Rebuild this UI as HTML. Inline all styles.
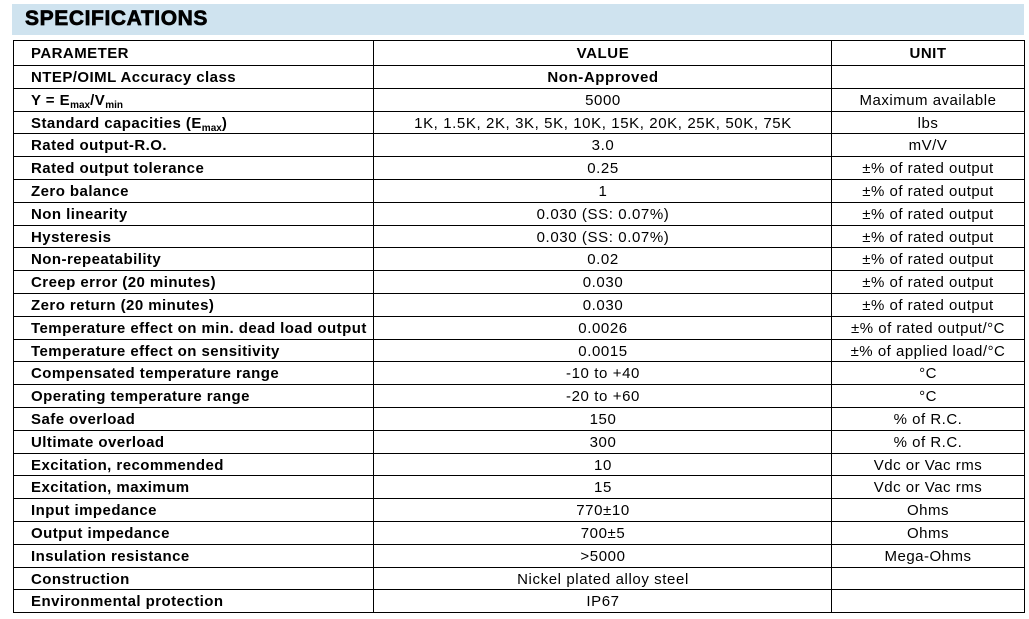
<!DOCTYPE html>
<html><head><meta charset="utf-8"><style>
body{margin:0;width:1029px;height:619px;background:#fff;position:relative;overflow:hidden;font-family:"Liberation Sans",Arial,sans-serif;color:#000}
.bar{position:absolute;left:12px;top:4px;width:1012px;height:31px;background:#cfe3ef}
.bar span{position:absolute;left:13px;top:3px;font-size:21px;font-weight:900;letter-spacing:0.6px;-webkit-text-stroke:0.7px #000}
.tbl{position:absolute;left:13px;top:40px;width:1010px;height:571px;border:1px solid #000}
.r{position:absolute;left:0;width:1010px;border-top:1px solid #000;font-size:15px;line-height:23px;letter-spacing:0.45px}
.r div{position:absolute;top:0}
.p{left:17px;font-weight:bold}
.v{left:360px;width:458px;text-align:center;letter-spacing:0.6px}
.u{left:818px;width:192px;text-align:center;letter-spacing:0.5px}
.vl{position:absolute;top:0;height:571px;border-left:1px solid #000}
sub{font-size:10px;vertical-align:-3px;line-height:0;letter-spacing:0}
</style></head><body>
<div class="bar"><span>SPECIFICATIONS</span></div>
<div class="tbl">
<div class="vl" style="left:359px"></div><div class="vl" style="left:817px"></div>
<div class="r" style="top:1px;border-top:none"><div class="p">PARAMETER</div><div class="v" style="font-weight:bold">VALUE</div><div class="u" style="font-weight:bold">UNIT</div></div>
<div class="r" style="top:24px"><div class="p">NTEP/OIML Accuracy class</div><div class="v" style="font-weight:bold">Non-Approved</div><div class="u"></div></div>
<div class="r" style="top:46.8px"><div class="p">Y = E<sub>max</sub>/V<sub>min</sub></div><div class="v">5000</div><div class="u">Maximum available</div></div>
<div class="r" style="top:69.6px"><div class="p">Standard capacities (E<sub>max</sub>)</div><div class="v">1K, 1.5K, 2K, 3K, 5K, 10K, 15K, 20K, 25K, 50K, 75K</div><div class="u">lbs</div></div>
<div class="r" style="top:92.4px"><div class="p">Rated output-R.O.</div><div class="v">3.0</div><div class="u">mV/V</div></div>
<div class="r" style="top:115.2px"><div class="p">Rated output tolerance</div><div class="v">0.25</div><div class="u">±% of rated output</div></div>
<div class="r" style="top:138px"><div class="p">Zero balance</div><div class="v">1</div><div class="u">±% of rated output</div></div>
<div class="r" style="top:160.8px"><div class="p">Non linearity</div><div class="v">0.030 (SS: 0.07%)</div><div class="u">±% of rated output</div></div>
<div class="r" style="top:183.6px"><div class="p">Hysteresis</div><div class="v">0.030 (SS: 0.07%)</div><div class="u">±% of rated output</div></div>
<div class="r" style="top:206.4px"><div class="p">Non-repeatability</div><div class="v">0.02</div><div class="u">±% of rated output</div></div>
<div class="r" style="top:229.2px"><div class="p">Creep error (20 minutes)</div><div class="v">0.030</div><div class="u">±% of rated output</div></div>
<div class="r" style="top:252px"><div class="p">Zero return (20 minutes)</div><div class="v">0.030</div><div class="u">±% of rated output</div></div>
<div class="r" style="top:274.8px"><div class="p">Temperature effect on min. dead load output</div><div class="v">0.0026</div><div class="u">±% of rated output/°C</div></div>
<div class="r" style="top:297.6px"><div class="p">Temperature effect on sensitivity</div><div class="v">0.0015</div><div class="u">±% of applied load/°C</div></div>
<div class="r" style="top:320.4px"><div class="p">Compensated temperature range</div><div class="v">-10 to +40</div><div class="u">°C</div></div>
<div class="r" style="top:343.2px"><div class="p">Operating temperature range</div><div class="v">-20 to +60</div><div class="u">°C</div></div>
<div class="r" style="top:366px"><div class="p">Safe overload</div><div class="v">150</div><div class="u">% of R.C.</div></div>
<div class="r" style="top:388.8px"><div class="p">Ultimate overload</div><div class="v">300</div><div class="u">% of R.C.</div></div>
<div class="r" style="top:411.6px"><div class="p">Excitation, recommended</div><div class="v">10</div><div class="u">Vdc or Vac rms</div></div>
<div class="r" style="top:434.4px"><div class="p">Excitation, maximum</div><div class="v">15</div><div class="u">Vdc or Vac rms</div></div>
<div class="r" style="top:457.2px"><div class="p">Input impedance</div><div class="v">770±10</div><div class="u">Ohms</div></div>
<div class="r" style="top:480px"><div class="p">Output impedance</div><div class="v">700±5</div><div class="u">Ohms</div></div>
<div class="r" style="top:502.8px"><div class="p">Insulation resistance</div><div class="v">&gt;5000</div><div class="u">Mega-Ohms</div></div>
<div class="r" style="top:525.6px"><div class="p">Construction</div><div class="v">Nickel plated alloy steel</div><div class="u"></div></div>
<div class="r" style="top:548.4px"><div class="p">Environmental protection</div><div class="v">IP67</div><div class="u"></div></div>
</div>
</body></html>
